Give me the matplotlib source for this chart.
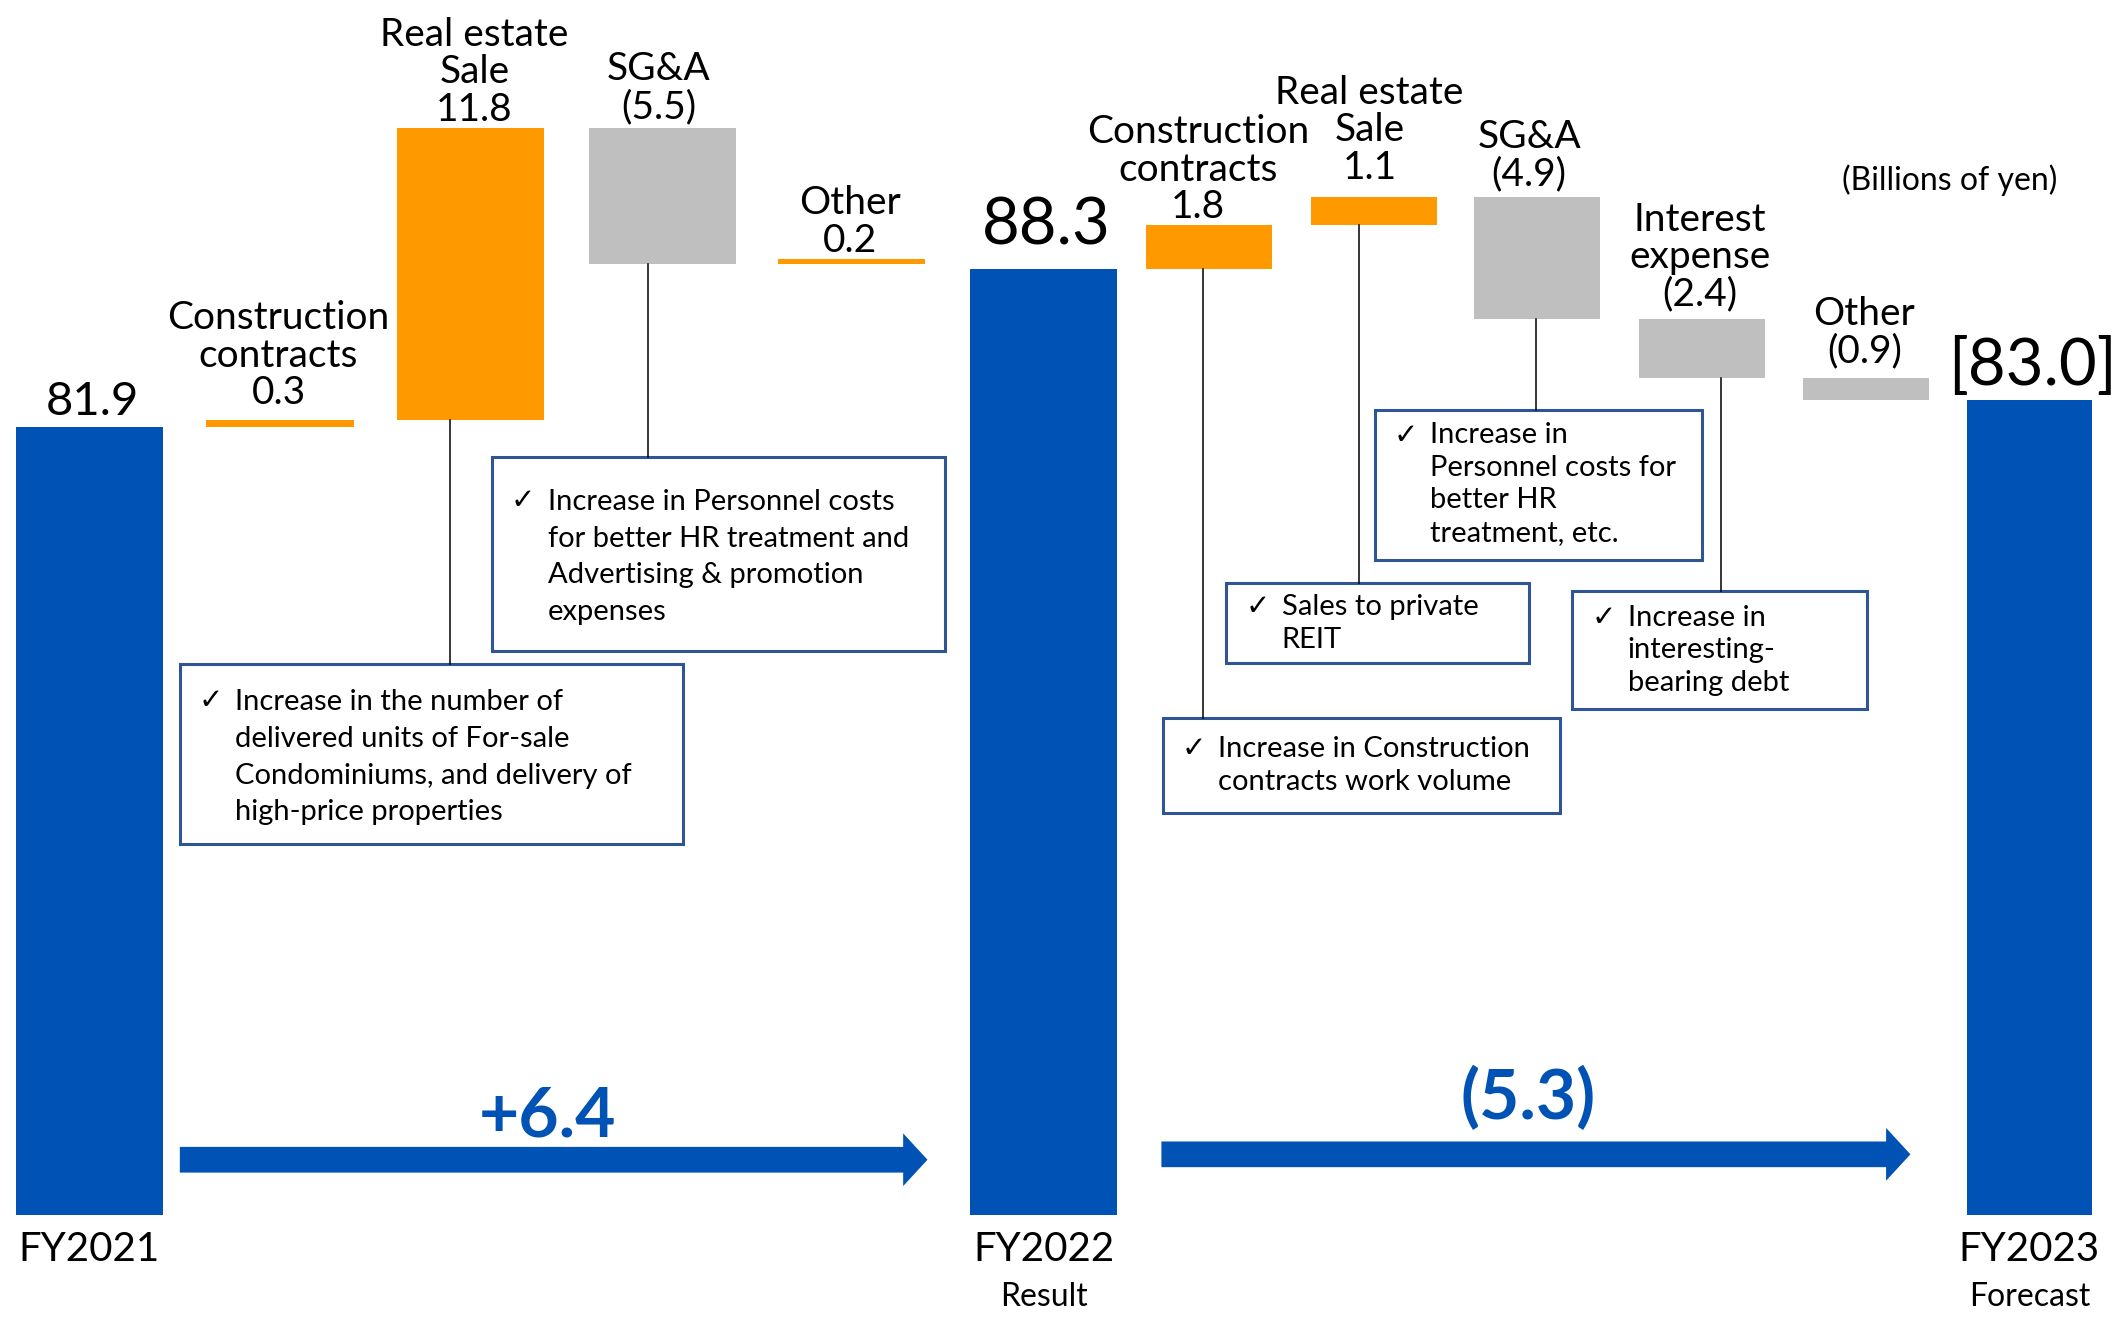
import matplotlib
matplotlib.use("Agg")
import matplotlib.pyplot as plt
from matplotlib.patches import Rectangle, FancyArrow

plt.rcParams['font.family'] = ['Lato', 'DejaVu Sans']

# ---- data ----
steps = ["FY2021", "Construction\ncontracts", "Real estate\nSale", "SG&A", "Other", "FY2022",
         "Construction\ncontracts", "Real estate\nSale", "SG&A", "Interest\nexpense", "Other", "FY2023"]
values = [81.9, 0.3, 11.8, -5.5, 0.2, 88.3, 1.8, 1.1, -4.9, -2.4, -0.9, 83.0]
is_total = [True, False, False, False, False, True, False, False, False, False, False, True]
total_text = ["81.9", "88.3", "[83.0]"]
period_sub = {5: "Result", 11: "Forecast"}
change_text = ["+6.4", "(5.3)"]
unit_text = "(Billions of yen)"
notes = [
    "Increase in the number of\ndelivered units of For-sale\nCondominiums, and delivery of\nhigh-price properties",
    "Increase in Personnel costs\nfor better HR treatment and\nAdvertising & promotion\nexpenses",
    "Increase in Construction\ncontracts work volume",
    "Sales to private\nREIT",
    "Increase in\nPersonnel costs for\nbetter HR\ntreatment, etc.",
    "Increase in\ninteresting-\nbearing debt",
]
note_bar = [2, 3, 6, 7, 8, 9]

# ---- layout (canvas units 1568 x 976) ----
W, H = 1568, 976
BASE = 50.0
YLIM = (45.77, 99.19)
xs = [66, 207, 348, 490, 630, 772, 894, 1016, 1137, 1259, 1380, 1501]
widths = [109] * 6 + [93] * 6
label_dx = {1: -1, 2: 3, 3: -3, 4: -1, 6: -8, 7: -3, 8: -6, 9: -2, 10: -1}
label_pad = {1: 6.5, 2: 0.5, 3: 2.5, 4: 0.5, 6: -0.5, 7: 8.5, 8: 3.5, 9: 4.5, 10: 6.5}
total_pad = {0: 9, 5: 18, 11: 11}
total_size = {0: 34, 5: 47, 11: 47}
boxes = [(133, 491, 505, 624), (364, 338, 699, 481), (860, 531, 1154, 601),
         (907, 431, 1131, 490), (1017, 303, 1259, 414), (1163, 437, 1381, 524)]
conn_x = [333, 479, 890, 1005, 1136, 1273]
first_base = [524, 376, 560, 455, 328, 463]
note_step = [27.5, 27.5, 24, 24, 24, 24]
LS_UNIT = 18.2  # canvas units per unit of linespacing at 21 pt

BLUE = "#0052B4"
ORANGE = "#FF9900"
GREY = "#BFBFBF"
EDGE = "#2F5597"

fig = plt.figure(figsize=(21.2, 13.2), dpi=100)
ax = fig.add_axes([0, 0, 1, 1])
ax.set_xlim(0, W)
ax.set_ylim(*YLIM)
ax.axis("off")
ov = fig.add_axes([0, 0, 1, 1])
ov.set_xlim(0, W)
ov.set_ylim(H, 0)
ov.axis("off")


def py(v):
    return (YLIM[1] - v) / (YLIM[1] - YLIM[0]) * H


def fmt(v):
    return f"{v:.1f}" if v >= 0 else f"({-v:.1f})"


running = 0.0
tops, bottoms = [], []
ti = 0
for i, v in enumerate(values):
    if is_total[i]:
        ax.bar(xs[i], v - BASE, bottom=BASE, width=widths[i], color=BLUE)
        running = v
        tops.append(v)
        bottoms.append(BASE)
        ov.text(xs[i] + 2, py(v) - total_pad[i], total_text[ti], ha="center", va="baseline",
                fontsize=total_size[i])
        ti += 1
    else:
        col = ORANGE if v > 0 else GREY
        ax.bar(xs[i], v, bottom=running, width=widths[i], color=col)
        top = max(running, running + v)
        bot = min(running, running + v)
        tops.append(top)
        bottoms.append(bot)
        running += v
        ov.text(xs[i] + label_dx[i], py(top) - label_pad[i], steps[i] + "\n" + fmt(v),
                ha="center", va="bottom", fontsize=28, linespacing=1.05)

# period labels under totals
for i in range(len(values)):
    if is_total[i]:
        ov.text(xs[i], 924, steps[i], ha="center", va="center", fontsize=29)
        if i in period_sub:
            ov.text(xs[i], 959, period_sub[i], ha="center", va="center", fontsize=23)

ov.text(1442, 133, unit_text, ha="center", va="center", fontsize=23)

# annotation boxes
for k, (x0, y0, x1, y1) in enumerate(boxes):
    ov.add_patch(Rectangle((x0, y0), x1 - x0, y1 - y0, fill=False, edgecolor=EDGE, lw=2.2))
    b = note_bar[k]
    ov.plot([conn_x[k], conn_x[k]], [py(bottoms[b]), y0], color="black", lw=1.1)
    ov.text(x0 + 23, first_base[k], "\u2713", ha="center", va="baseline", fontsize=21,
            family=["DejaVu Sans"])
    n = notes[k].count("\n")
    ov.text(x0 + 41, first_base[k] + n * note_step[k], notes[k], ha="left", va="baseline",
            fontsize=21, linespacing=note_step[k] / LS_UNIT)

# change arrows
arrows = [(133, 686, 857.5, 405, 826), (859, 1413, 853.5, 1130, 812)]
for (xa, xb, yc, tx, ty), txt in zip(arrows, change_text):
    ov.add_patch(FancyArrow(xa, yc, xb - xa, 0, width=19, head_width=39, head_length=18,
                            length_includes_head=True, color=BLUE, lw=0))
    ov.text(tx, ty, txt, ha="center", va="center", fontsize=50, fontweight="bold", color=BLUE)

fig.savefig("out.png", dpi=100)
